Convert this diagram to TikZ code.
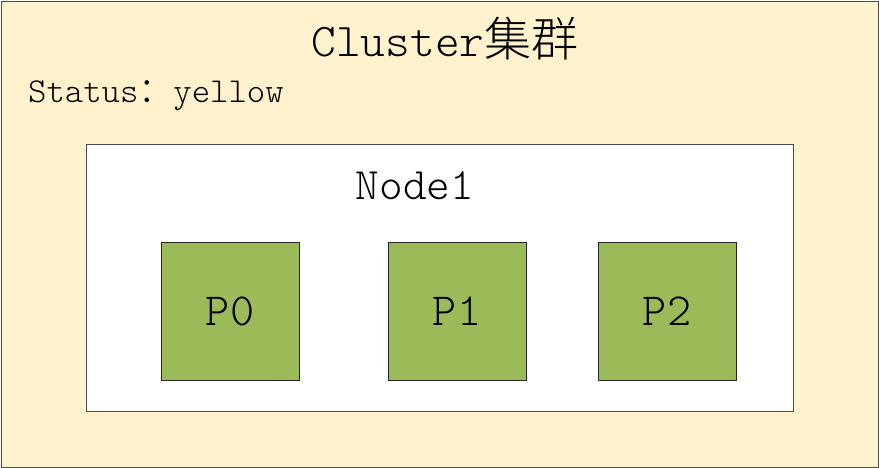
\documentclass[tikz,border=0pt]{standalone}
\usepackage{fontspec}
\newfontfamily\cjk{Noto Sans CJK SC Light}
\setmonofont{Latin Modern Mono Light}
\definecolor{clusterfill}{HTML}{FFF2CC}
\definecolor{partgreen}{HTML}{9BBB59}
\tikzset{
  part/.style={draw=black!85,fill=partgreen,thick,minimum width=138pt,minimum height=138pt,inner sep=0pt,font=\ttfamily\fontsize{46}{50}\selectfont},
  lbl/.style={inner sep=0pt,font=\ttfamily}
}
\begin{document}
\begin{tikzpicture}[x=1pt,y=-1pt]
    \useasboundingbox (0,0) rectangle (879,468);
    \draw[draw=black!70,fill=clusterfill,thick] (1,1) rectangle (878,467);
    \node[lbl,font=\ttfamily\fontsize{47}{50}\selectfont,anchor=base] (title) at (445,57) {Cluster{\cjk 集群}};
    \node[lbl,font=\ttfamily\fontsize{35}{40}\selectfont,anchor=base west] (status) at (28,103) {Status{\cjk ：}yellow};
    \draw[draw=black!70,fill=white,semithick] (86,144) rectangle (793,411);
    \node[lbl,font=\ttfamily\fontsize{45}{50}\selectfont,anchor=base] (node1) at (415,200) {Node1};
    \node[part] (p0) at (230,311) {P0};
    \node[part] (p1) at (457,311) {P1};
    \node[part] (p2) at (667,311) {P2};
\end{tikzpicture}
\end{document}
